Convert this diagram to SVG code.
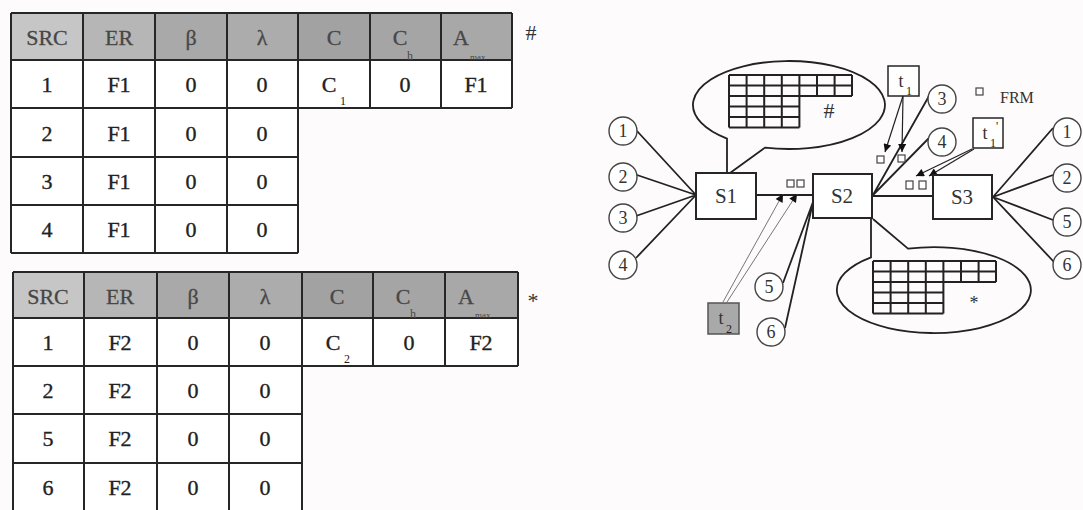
<svg xmlns="http://www.w3.org/2000/svg" width="1083" height="510" viewBox="0 0 1083 510">
<style>
.bg{fill:#fdfbfb}
.tl{stroke:#262626;stroke-width:2;fill:none}
.ct{font-family:"Liberation Serif",serif;font-size:22px;fill:#222;stroke:#222;stroke-width:0.35;text-anchor:middle}
.ht{font-family:"Liberation Serif",serif;font-size:22px;fill:#474747;stroke:#474747;stroke-width:0.3;text-anchor:middle}
.sub{font-family:"Liberation Serif",serif;font-size:12px;fill:#222}
.hsub{font-family:"Liberation Serif",serif;font-size:12px;fill:#474747}
.tiny{font-family:"Liberation Serif",serif;font-size:9px;fill:#474747}
.mark{font-family:"Liberation Serif",serif;font-size:22px;fill:#333;text-anchor:middle}
.box{fill:#fff;stroke:#262626;stroke-width:2}
.nt{font-family:"Liberation Serif",serif;font-size:21px;fill:#333;text-anchor:middle}
.circ{fill:#fff;stroke:#444;stroke-width:1.4}
.cn{font-family:"Liberation Serif",serif;font-size:18px;fill:#333;text-anchor:middle}
.ln{stroke:#222;stroke-width:1.8;fill:none}
.thin{stroke:#777;stroke-width:1;fill:none}
.sq{fill:#fff;stroke:#444;stroke-width:1.2}
.grid{stroke:#222;stroke-width:2;fill:none}
.bub{stroke:#222;stroke-width:1.8;fill:none}
</style>
<defs>
<marker id="ah" viewBox="0 0 10 10" refX="10" refY="5" markerWidth="9" markerHeight="8" orient="auto" markerUnits="userSpaceOnUse">
<path d="M0,0 L10,5 L0,10 z" fill="#111"/>
</marker>
</defs>
<rect class="bg" x="0" y="0" width="1083" height="510"/>

<!-- Top table -->
<g id="table-top">
<rect x="11" y="13" width="72" height="47" fill="#c6c6c6"/>
<rect x="83" y="13" width="72" height="47" fill="#b6b6b6"/>
<rect x="155" y="13" width="72" height="47" fill="#a9a9a9"/>
<rect x="227" y="13" width="71" height="47" fill="#acacac"/>
<rect x="298" y="13" width="72" height="47" fill="#a2a2a2"/>
<rect x="370" y="13" width="71" height="47" fill="#a5a5a5"/>
<rect x="441" y="13" width="71" height="47" fill="#a8a8a8"/>
<rect x="11" y="60" width="501" height="48" fill="#fff"/>
<rect x="11" y="108" width="287" height="145" fill="#fff"/>
<path class="tl" d="M11,13H512M11,60H512M11,108H512M11,157H298M11,205H298M11,253H298M11,13V253M83,13V253M155,13V253M227,13V253M298,13V253M370,13V108M441,13V108M512,13V108"/>
<text class="ht" x="47" y="45">SRC</text>
<text class="ht" x="119" y="45">ER</text>
<text class="ht" x="191" y="45">β</text>
<text class="ht" x="262" y="45">λ</text>
<text class="ht" x="334" y="45">C</text>
<text class="ht" x="400" y="45">C</text><text class="hsub" x="407" y="60">h</text>
<text class="ht" x="461" y="45">A</text><text class="tiny" x="470" y="60">max</text>
<text class="ct" x="47" y="92">1</text><text class="ct" x="119" y="92">F1</text><text class="ct" x="191" y="92">0</text><text class="ct" x="262" y="92">0</text>
<text class="ct" x="329" y="92">C</text><text class="sub" x="340" y="105">1</text>
<text class="ct" x="405" y="92">0</text><text class="ct" x="476" y="92">F1</text>
<text class="ct" x="47" y="141">2</text><text class="ct" x="119" y="141">F1</text><text class="ct" x="191" y="141">0</text><text class="ct" x="262" y="141">0</text>
<text class="ct" x="47" y="189">3</text><text class="ct" x="119" y="189">F1</text><text class="ct" x="191" y="189">0</text><text class="ct" x="262" y="189">0</text>
<text class="ct" x="47" y="237">4</text><text class="ct" x="119" y="237">F1</text><text class="ct" x="191" y="237">0</text><text class="ct" x="262" y="237">0</text>
<text class="mark" x="531" y="40">#</text>
</g>

<!-- Bottom table -->
<g id="table-bottom">
<rect x="13" y="272" width="71" height="46" fill="#c6c6c6"/>
<rect x="84" y="272" width="73" height="46" fill="#b6b6b6"/>
<rect x="157" y="272" width="72" height="46" fill="#a9a9a9"/>
<rect x="229" y="272" width="73" height="46" fill="#acacac"/>
<rect x="302" y="272" width="71" height="46" fill="#a2a2a2"/>
<rect x="373" y="272" width="72" height="46" fill="#a5a5a5"/>
<rect x="445" y="272" width="73" height="46" fill="#a8a8a8"/>
<rect x="13" y="318" width="505" height="48" fill="#fff"/>
<rect x="13" y="366" width="289" height="147" fill="#fff"/>
<path class="tl" d="M13,272H518M13,318H518M13,366H518M13,414H302M13,463H302M13,272V512M84,272V512M157,272V512M229,272V512M302,272V512M373,272V366M445,272V366M518,272V366"/>
<text class="ht" x="48" y="304">SRC</text>
<text class="ht" x="120" y="304">ER</text>
<text class="ht" x="193" y="304">β</text>
<text class="ht" x="265" y="304">λ</text>
<text class="ht" x="337" y="304">C</text>
<text class="ht" x="403" y="304">C</text><text class="hsub" x="410" y="318">h</text>
<text class="ht" x="466" y="304">A</text><text class="tiny" x="475" y="318">max</text>
<text class="ct" x="48" y="350">1</text><text class="ct" x="120" y="350">F2</text><text class="ct" x="193" y="350">0</text><text class="ct" x="265" y="350">0</text>
<text class="ct" x="333" y="350">C</text><text class="sub" x="344" y="363">2</text>
<text class="ct" x="409" y="350">0</text><text class="ct" x="481" y="350">F2</text>
<text class="ct" x="48" y="398">2</text><text class="ct" x="120" y="398">F2</text><text class="ct" x="193" y="398">0</text><text class="ct" x="265" y="398">0</text>
<text class="ct" x="48" y="446">5</text><text class="ct" x="120" y="446">F2</text><text class="ct" x="193" y="446">0</text><text class="ct" x="265" y="446">0</text>
<text class="ct" x="48" y="495">6</text><text class="ct" x="120" y="495">F2</text><text class="ct" x="193" y="495">0</text><text class="ct" x="265" y="495">0</text>
<text class="mark" x="533" y="308">*</text>
</g>

<!-- Connectors -->
<g id="connectors">
<path class="ln" d="M696,195L637,131M696,195L637,175M696,195L636,216M696,195L636,258"/>
<path class="ln" d="M756,195H813"/>
<path class="ln" d="M872,196H933"/>
<path class="ln" d="M873,195L929,96M873,195L929,138"/>
<path class="ln" d="M813,202L783,283M813,202L785,328"/>
<path class="ln" d="M993,197L1053,128M993,197L1053,175M993,197L1053,220M993,197L1054,262"/>
<path class="thin" d="M723,302L783,194" marker-end="url(#ah)"/>
<path class="thin" d="M727,302L797,194" marker-end="url(#ah)"/>
<path class="ln" style="stroke-width:1.2" d="M903,96L885,152" marker-end="url(#ah)"/>
<path class="ln" style="stroke-width:1.2" d="M903,96L902,152" marker-end="url(#ah)"/>
<path class="ln" style="stroke-width:1.2" d="M972,149L916,176" marker-end="url(#ah)"/>
<path class="ln" style="stroke-width:1.2" d="M974,149L929,176" marker-end="url(#ah)"/>
</g>

<!-- Frames -->
<g id="frames">
<rect class="sq" x="787" y="180" width="7" height="7"/>
<rect class="sq" x="797" y="180" width="7" height="7"/>
<rect class="sq" x="877" y="156" width="7" height="7"/>
<rect class="sq" x="898" y="155" width="7" height="7"/>
<rect class="sq" x="906" y="181" width="7" height="8"/>
<rect class="sq" x="919" y="181" width="7" height="8"/>
</g>

<!-- Bubble # -->
<g id="bubble-s1">
<path class="bub" d="M727,173L727,138.6A96,44 0 1 1 765,147.6L730,173"/>
<path class="grid" d="M729,75H852M729,85.5H852M729,96H852M729,106.5H799.4M729,117H799.4M729,127.5H799.4M729,75V127.5M746.6,75V127.5M764.2,75V127.5M781.8,75V127.5M799.4,75V127.5M817,75V96M834.6,75V96M852,75V96"/>
<text class="mark" x="829" y="118">#</text>
</g>

<!-- Bubble * -->
<g id="bubble-s2">
<path class="bub" d="M871,218L871,257.3A97,43 0 1 0 908,248.6L873,219"/>
<path class="grid" d="M873,261H996M873,271.5H996M873,282H996M873,292.5H943.4M873,303H943.4M873,313.5H943.4M873,261V313.5M890.6,261V313.5M908.2,261V313.5M925.8,261V313.5M943.4,261V313.5M961,261V282M978.6,261V282M996,261V282"/>
<text class="mark" style="font-size:18px" x="974" y="309">*</text>
</g>

<!-- Switches -->
<g id="node-s1"><rect class="box" x="696" y="173" width="60" height="46"/><text class="nt" x="726" y="203">S1</text></g>
<g id="node-s2"><rect class="box" x="813" y="174" width="59" height="44"/><text class="nt" x="842" y="203">S2</text></g>
<g id="node-s3"><rect class="box" x="933" y="175" width="59" height="44"/><text class="nt" x="962" y="204">S3</text></g>

<!-- Sources left -->
<g id="src-l1"><circle class="circ" cx="623" cy="131" r="14"/><text class="cn" x="623" y="137">1</text></g>
<g id="src-l2"><circle class="circ" cx="623" cy="177" r="14"/><text class="cn" x="623" y="183">2</text></g>
<g id="src-l3"><circle class="circ" cx="623" cy="218" r="14"/><text class="cn" x="623" y="224">3</text></g>
<g id="src-l4"><circle class="circ" cx="623" cy="265" r="14"/><text class="cn" x="623" y="271">4</text></g>
<!-- Sources middle -->
<g id="src-m3"><circle class="circ" cx="942" cy="99" r="14"/><text class="cn" x="942" y="105">3</text></g>
<g id="src-m4"><circle class="circ" cx="942" cy="142" r="14"/><text class="cn" x="942" y="148">4</text></g>
<g id="src-m5"><circle class="circ" cx="769" cy="287" r="14"/><text class="cn" x="769" y="293">5</text></g>
<g id="src-m6"><circle class="circ" cx="771" cy="332" r="14"/><text class="cn" x="771" y="338">6</text></g>
<!-- Sources right -->
<g id="src-r1"><circle class="circ" cx="1067" cy="132" r="14"/><text class="cn" x="1067" y="138">1</text></g>
<g id="src-r2"><circle class="circ" cx="1067" cy="178" r="14"/><text class="cn" x="1067" y="184">2</text></g>
<g id="src-r5"><circle class="circ" cx="1067" cy="222" r="14"/><text class="cn" x="1067" y="228">5</text></g>
<g id="src-r6"><circle class="circ" cx="1067" cy="265" r="14"/><text class="cn" x="1067" y="271">6</text></g>

<!-- Timers -->
<g id="t1"><rect class="box" style="stroke-width:1.5" x="888" y="66" width="31" height="30"/><text class="cn" x="901" y="87">t</text><text class="sub" x="906" y="95">1</text></g>
<g id="t1p"><rect class="box" style="stroke-width:1.5" x="973" y="118" width="30" height="30"/><text class="cn" x="985" y="139">t</text><text class="sub" x="990" y="147">1</text><text class="sub" x="996" y="130">'</text></g>
<g id="t2"><rect class="box" style="fill:#a9a9a9;stroke:#555;stroke-width:1.5" x="708" y="303" width="31" height="31"/><text class="cn" x="721" y="324">t</text><text class="sub" x="726" y="333">2</text></g>

<!-- Legend -->
<g id="legend"><rect class="sq" x="976" y="88" width="7" height="7"/><text class="cn" style="font-size:16px;text-anchor:start" x="1000" y="103">FRM</text></g>
</svg>
